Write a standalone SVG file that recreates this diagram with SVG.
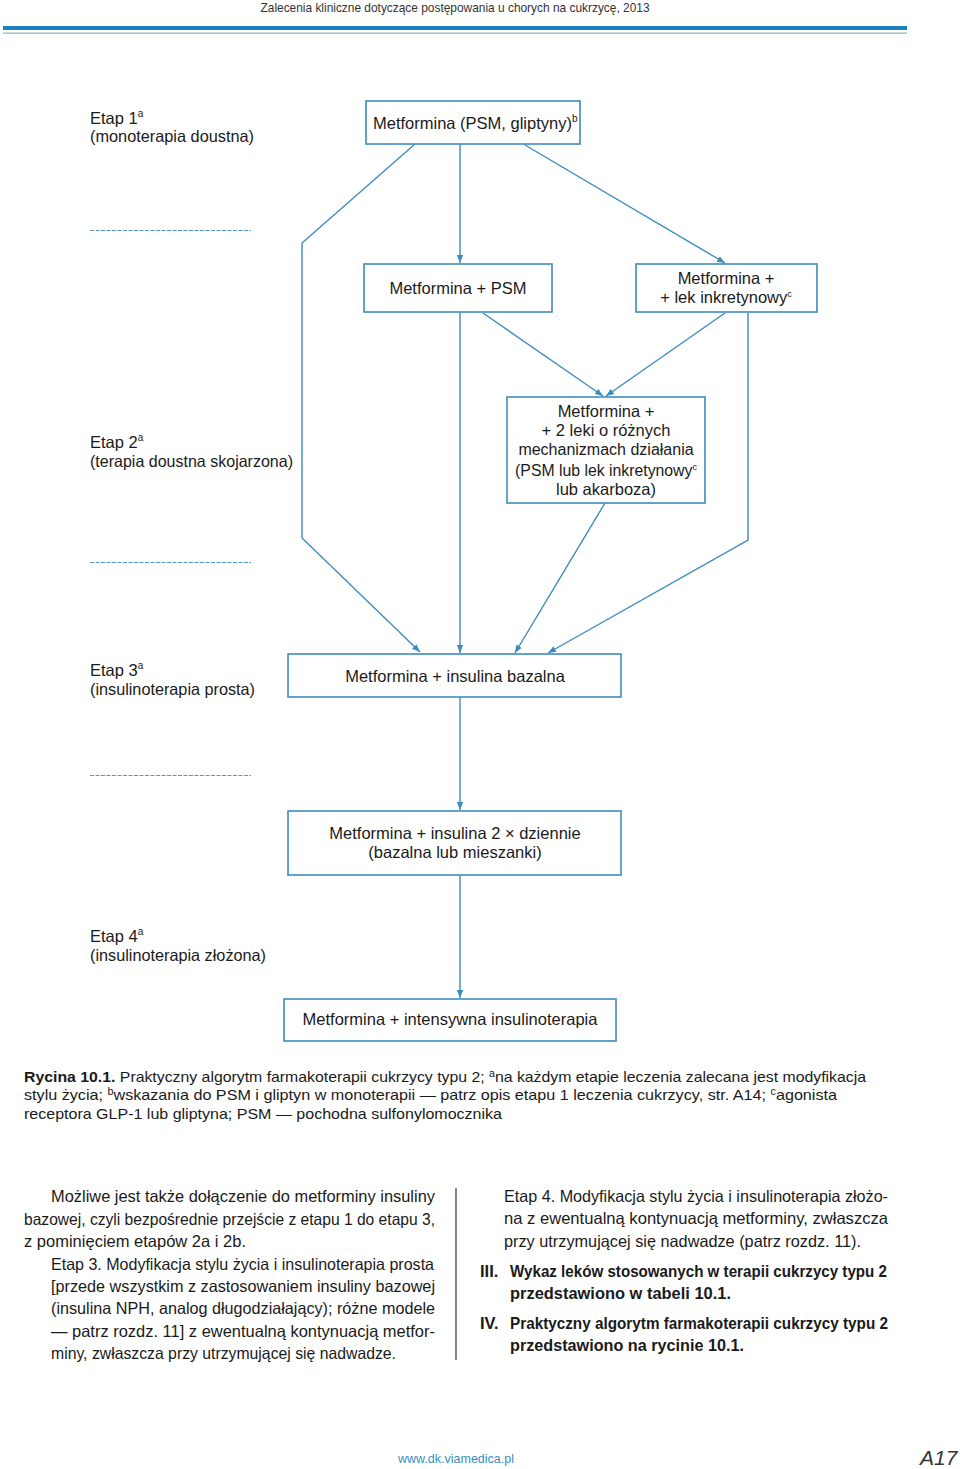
<svg xmlns="http://www.w3.org/2000/svg" width="960" height="1469" viewBox="0 0 960 1469">
<style>
.t{font-family:"Liberation Sans",Arial,sans-serif;font-size:16.5px;fill:#1a1a1a}
.c{font-family:"Liberation Sans",Arial,sans-serif;font-size:15px;fill:#1a1a1a}
.b{font-weight:bold}
.box{fill:#ffffff;stroke:#3d8cbf;stroke-width:1.6}
.ln{fill:none;stroke:#3d8cbf;stroke-width:1.4}
.dash{stroke:#4f97c9;stroke-width:1;stroke-dasharray:4 1.5}
.mid{text-anchor:middle}
.sup{font-size:10px}
.sup2{font-size:9px}
</style>
<defs>
<marker id="ah" markerUnits="userSpaceOnUse" markerWidth="8" markerHeight="8" viewBox="0 0 10 10" refX="10" refY="5" orient="auto">
<path d="M0,1 L10,5 L0,9 Z" fill="#3d8cbf"/>
</marker>
</defs>
<rect width="960" height="1469" fill="#ffffff"/>

<!-- header -->
<text x="455" y="12" text-anchor="middle" font-family="Liberation Sans,Arial,sans-serif" font-size="13" fill="#333" textLength="389" lengthAdjust="spacingAndGlyphs">Zalecenia kliniczne dotyczące postępowania u chorych na cukrzycę, 2013</text>
<rect x="3" y="26" width="904" height="4" fill="#1d7fc0"/>
<rect x="3" y="32.5" width="904" height="1.3" fill="#8fb7cc"/>

<!-- stage labels -->
<g id="labels">
<text class="t" x="90" y="124">Etap 1<tspan class="sup" dy="-7">a</tspan></text>
<text class="t" x="90" y="142" textLength="164" lengthAdjust="spacingAndGlyphs">(monoterapia doustna)</text>
<text class="t" x="90" y="448">Etap 2<tspan class="sup" dy="-7">a</tspan></text>
<text class="t" x="90" y="467" textLength="203" lengthAdjust="spacingAndGlyphs">(terapia doustna skojarzona)</text>
<text class="t" x="90" y="676">Etap 3<tspan class="sup" dy="-7">a</tspan></text>
<text class="t" x="90" y="695" textLength="165" lengthAdjust="spacingAndGlyphs">(insulinoterapia prosta)</text>
<text class="t" x="90" y="942">Etap 4<tspan class="sup" dy="-7">a</tspan></text>
<text class="t" x="90" y="961" textLength="176" lengthAdjust="spacingAndGlyphs">(insulinoterapia złożona)</text>
<line class="dash" x1="90" y1="230.5" x2="251" y2="230.5"/>
<line class="dash" x1="90" y1="562.5" x2="251" y2="562.5"/>
<line class="dash" x1="90" y1="775.5" x2="251" y2="775.5"/>
</g>

<!-- connectors -->
<g id="connectors">
<path class="ln" d="M415,144 L302,243 L302,538 L420,652" marker-end="url(#ah)"/>
<path class="ln" d="M460,144 L460,263" marker-end="url(#ah)"/>
<path class="ln" d="M525,145 L725,263" marker-end="url(#ah)"/>
<path class="ln" d="M460,312 L460,653" marker-end="url(#ah)"/>
<path class="ln" d="M483,313 L603,396" marker-end="url(#ah)"/>
<path class="ln" d="M725,313 L606,396" marker-end="url(#ah)"/>
<path class="ln" d="M748,313 L748,540 L548,653" marker-end="url(#ah)"/>
<path class="ln" d="M605,503 L515,653" marker-end="url(#ah)"/>
<path class="ln" d="M460,697 L460,810" marker-end="url(#ah)"/>
<path class="ln" d="M460,876 L460,998" marker-end="url(#ah)"/>
</g>

<!-- nodes -->
<g id="n1">
<rect class="box" x="366" y="101" width="214" height="43"/>
<text class="t" x="373" y="129">Metformina (PSM, gliptyny)<tspan class="sup" dy="-7">b</tspan></text>
</g>
<g id="n2">
<rect class="box" x="364" y="264" width="188" height="48"/>
<text class="t mid" x="458" y="294">Metformina + PSM</text>
</g>
<g id="n3">
<rect class="box" x="636" y="264" width="181" height="48"/>
<text class="t mid" x="726" y="284">Metformina +</text>
<text class="t mid" x="726" y="303">+ lek inkretynowy<tspan class="sup2" dy="-6">c</tspan></text>
</g>
<g id="n4">
<rect class="box" x="507" y="397" width="198" height="106"/>
<text class="t mid" x="606" y="417">Metformina +</text>
<text class="t mid" x="606" y="436">+ 2 leki o różnych</text>
<text class="t mid" x="606" y="455" style="font-size:16px">mechanizmach działania</text>
<text class="t mid" x="606" y="476" style="font-size:15.8px">(PSM lub lek inkretynowy<tspan class="sup2" dy="-6">c</tspan></text>
<text class="t mid" x="606" y="495">lub akarboza)</text>
</g>
<g id="n5">
<rect class="box" x="288" y="654" width="333" height="43"/>
<text class="t mid" x="455" y="682">Metformina + insulina bazalna</text>
</g>
<g id="n6">
<rect class="box" x="288" y="811" width="333" height="64"/>
<text class="t mid" x="455" y="839">Metformina + insulina 2 × dziennie</text>
<text class="t mid" x="455" y="858">(bazalna lub mieszanki)</text>
</g>
<g id="n7">
<rect class="box" x="284" y="999" width="332" height="42"/>
<text class="t mid" x="450" y="1025">Metformina + intensywna insulinoterapia</text>
</g>

<!-- caption -->
<g id="caption">
<text class="c" x="24" y="1082" textLength="842" lengthAdjust="spacingAndGlyphs"><tspan class="b">Rycina 10.1.</tspan> Praktyczny algorytm farmakoterapii cukrzycy typu 2; <tspan class="sup" dy="-5">a</tspan><tspan dy="5">na każdym etapie leczenia zalecana jest modyfikacja</tspan></text>
<text class="c" x="24" y="1100" textLength="813" lengthAdjust="spacingAndGlyphs">stylu życia; <tspan class="sup" dy="-5">b</tspan><tspan dy="5">wskazania do PSM i gliptyn w monoterapii — patrz opis etapu 1 leczenia cukrzycy, str. A14; </tspan><tspan class="sup" dy="-5">c</tspan><tspan dy="5">agonista</tspan></text>
<text class="c" x="24" y="1119" textLength="478" lengthAdjust="spacingAndGlyphs">receptora GLP-1 lub gliptyna; PSM — pochodna sulfonylomocznika</text>
</g>

<!-- body text -->
<g id="body">
<text class="t" x="51" y="1202" textLength="384" lengthAdjust="spacingAndGlyphs">Możliwe jest także dołączenie do metforminy insuliny</text>
<text class="t" x="24" y="1225" textLength="411" lengthAdjust="spacingAndGlyphs">bazowej, czyli bezpośrednie przejście z etapu 1 do etapu 3,</text>
<text class="t" x="24" y="1247" textLength="222" lengthAdjust="spacingAndGlyphs">z pominięciem etapów 2a i 2b.</text>
<text class="t" x="51" y="1270" textLength="383" lengthAdjust="spacingAndGlyphs">Etap 3. Modyfikacja stylu życia i insulinoterapia prosta</text>
<text class="t" x="51" y="1292" textLength="384" lengthAdjust="spacingAndGlyphs">[przede wszystkim z zastosowaniem insuliny bazowej</text>
<text class="t" x="51" y="1314" textLength="384" lengthAdjust="spacingAndGlyphs">(insulina NPH, analog długodziałający); różne modele</text>
<text class="t" x="51" y="1337" textLength="384" lengthAdjust="spacingAndGlyphs">— patrz rozdz. 11] z ewentualną kontynuacją metfor-</text>
<text class="t" x="51" y="1359" textLength="345" lengthAdjust="spacingAndGlyphs">miny, zwłaszcza przy utrzymującej się nadwadze.</text>
<line x1="456" y1="1188" x2="456" y2="1360" stroke="#333" stroke-width="1.2"/>
<text class="t" x="504" y="1202" textLength="384" lengthAdjust="spacingAndGlyphs">Etap 4. Modyfikacja stylu życia i insulinoterapia złożo-</text>
<text class="t" x="504" y="1224" textLength="384" lengthAdjust="spacingAndGlyphs">na z ewentualną kontynuacją metforminy, zwłaszcza</text>
<text class="t" x="504" y="1247" textLength="357" lengthAdjust="spacingAndGlyphs">przy utrzymującej się nadwadze (patrz rozdz. 11).</text>
<text class="t b" x="480" y="1277">III.</text>
<text class="t b" x="510" y="1277" textLength="377" lengthAdjust="spacingAndGlyphs">Wykaz leków stosowanych w terapii cukrzycy typu 2</text>
<text class="t b" x="510" y="1299" textLength="221" lengthAdjust="spacingAndGlyphs">przedstawiono w tabeli 10.1.</text>
<text class="t b" x="480" y="1329">IV.</text>
<text class="t b" x="510" y="1329" textLength="378" lengthAdjust="spacingAndGlyphs">Praktyczny algorytm farmakoterapii cukrzycy typu 2</text>
<text class="t b" x="510" y="1351" textLength="234" lengthAdjust="spacingAndGlyphs">przedstawiono na rycinie 10.1.</text>
</g>

<!-- footer -->
<text x="398" y="1463" font-family="Liberation Sans,Arial,sans-serif" font-size="13" fill="#3a8fc0" textLength="116" lengthAdjust="spacingAndGlyphs">www.dk.viamedica.pl</text>
<text x="920" y="1465" font-family="Liberation Sans,Arial,sans-serif" font-size="21" font-style="italic" fill="#333">A17</text>
</svg>
